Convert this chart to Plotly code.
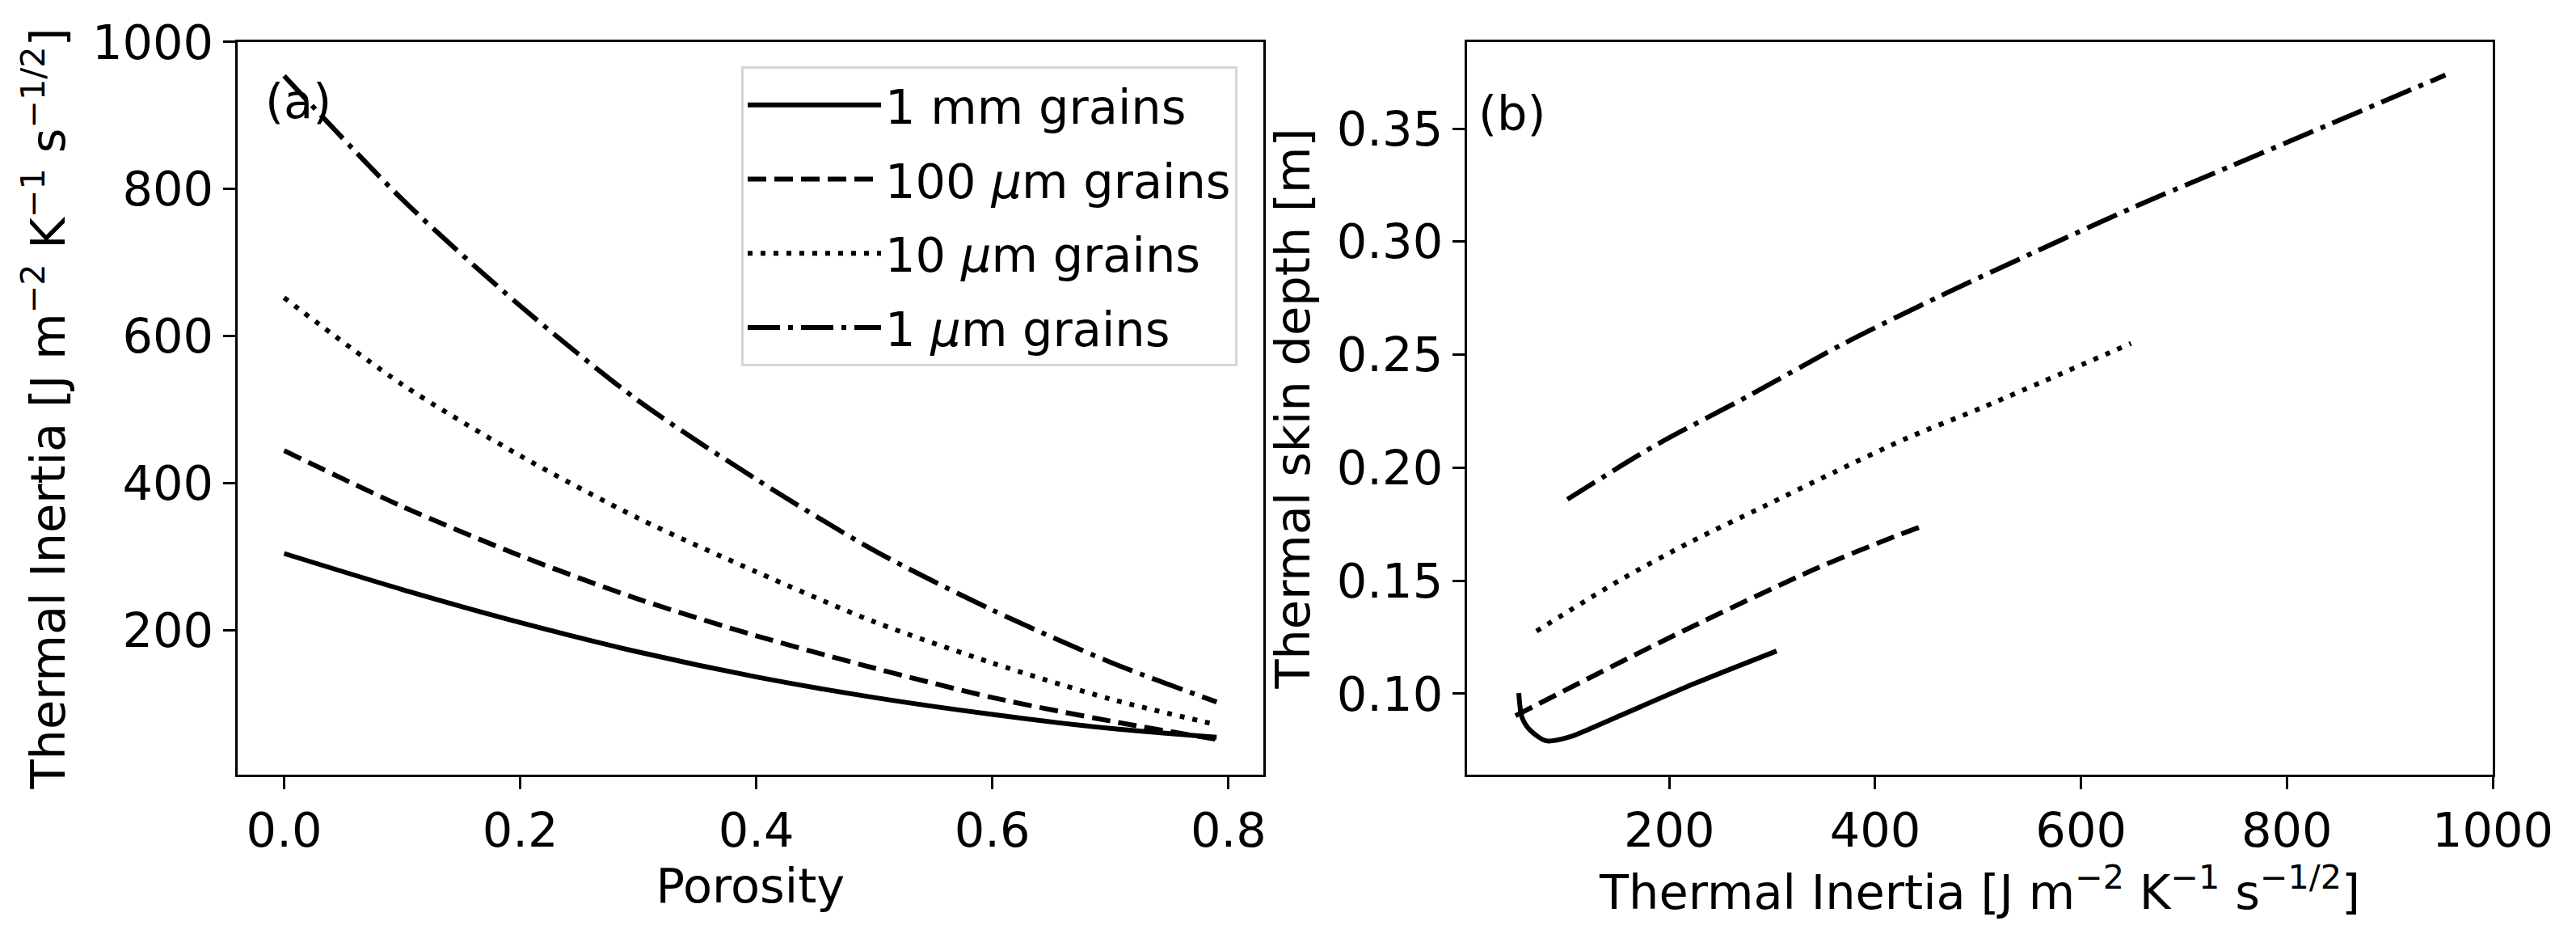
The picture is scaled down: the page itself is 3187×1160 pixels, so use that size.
import plotly.graph_objects as go

# ---- panel (a): thermal inertia vs porosity ----
porosity = [0.0, 0.1, 0.2, 0.3, 0.4, 0.5, 0.6, 0.7, 0.79]
ti_1mm = [304, 255, 210, 170, 136, 108, 85, 66, 54]
ti_100um = [444, 368, 301, 242, 192, 148, 108, 76, 51]
ti_10um = [652, 534, 437, 352, 279, 211, 155, 106, 71]
ti_1um = [954, 786, 641, 512, 405, 308, 227, 156, 102]

# ---- panel (b): skin depth vs thermal inertia ----
b_ti_1mm = [53.8, 56.9, 64.7, 80.4, 101.6, 146.4, 225, 304.2]
b_depth_1mm = [0.1003, 0.0896, 0.0839, 0.0792, 0.0807, 0.0892, 0.1046, 0.1189]
b_ti_100um = [50.6, 119.7, 214, 342.7, 419.6, 443.4]
b_depth_100um = [0.0903, 0.1064, 0.1279, 0.1554, 0.1697, 0.1737]
b_ti_10um = [71, 150.7, 220.8, 291, 361, 431, 505, 648.5]
b_depth_10um = [0.1277, 0.1499, 0.1672, 0.1827, 0.1982, 0.2131, 0.2268, 0.2550]
b_ti_1um = [101, 185, 278, 369, 462, 556, 652, 747, 842, 954]
b_depth_1um = [0.186, 0.2095, 0.232, 0.2548, 0.2757, 0.2956, 0.3154, 0.3337, 0.352, 0.3737]

labels = ["1 mm grains", "100 <i>μ</i>m grains", "10 <i>μ</i>m grains", "1 <i>μ</i>m grains"]
dashes = ["solid", "23px,10px", "6px,10px", "40px,10px,6px,10px"]

FONT = "DejaVu Sans"
FS = 59
LW = 6

fig = go.Figure()

series_a = [ti_1mm, ti_100um, ti_10um, ti_1um]
for i, (lab, ys, dsh) in enumerate(zip(labels, series_a, dashes)):
    fig.add_trace(go.Scatter(
        x=porosity, y=ys, mode="lines", name=lab, legendgroup=f"g{i}",
        line=dict(color="black", width=LW, dash=dsh, shape="spline", smoothing=0.8),
        xaxis="x", yaxis="y",
    ))

series_b = [(b_ti_1mm, b_depth_1mm), (b_ti_100um, b_depth_100um),
            (b_ti_10um, b_depth_10um), (b_ti_1um, b_depth_1um)]
for (xs, ys), dsh in zip(series_b, dashes):
    fig.add_trace(go.Scatter(
        x=xs, y=ys, mode="lines", showlegend=False,
        line=dict(color="black", width=LW, dash=dsh, shape="spline", smoothing=0.8),
        xaxis="x2", yaxis="y2",
    ))

ti_title = "Thermal Inertia [J m<sup>−2</sup> K<sup>−1</sup> s<sup>−1/2</sup>]"
axis_common = dict(
    showline=True, linecolor="black", linewidth=3, mirror=True,
    ticks="outside", ticklen=15, tickwidth=3, tickcolor="black",
    showgrid=False, zeroline=False, automargin=False,
    tickfont=dict(family=FONT, size=FS, color="black"),
)
title_font = dict(family=FONT, size=FS, color="black")

fig.update_layout(
    width=3187, height=1160,
    paper_bgcolor="white", plot_bgcolor="white",
    margin=dict(l=0, r=0, t=0, b=0),
    font=dict(family=FONT, size=FS, color="black"),
    xaxis=dict(domain=[0.0922, 0.4904], range=[-0.0395, 0.8295],
               tickvals=[0.0, 0.2, 0.4, 0.6, 0.8], tickformat=".1f",
               title=dict(text="Porosity", font=title_font),
               **axis_common),
    yaxis=dict(domain=[0.1741, 0.9552], range=[3, 1000],
               tickvals=[200, 400, 600, 800, 1000],
               title=dict(text=ti_title, font=title_font),
               **axis_common),
    xaxis2=dict(domain=[0.5695, 0.9677], range=[3.5, 1000], anchor="y2",
                tickvals=[200, 400, 600, 800, 1000],
                title=dict(text=ti_title, font=title_font),
                **axis_common),
    yaxis2=dict(domain=[0.1741, 0.9552], range=[0.0642, 0.3883], anchor="x2",
                tickvals=[0.10, 0.15, 0.20, 0.25, 0.30, 0.35], tickformat=".2f",
                title=dict(text="Thermal skin depth [m]", font=title_font),
                **axis_common),
    legend=dict(x=0.4804, y=0.9293, xanchor="right", yanchor="top",
                bgcolor="rgba(255,255,255,0.8)", bordercolor="#d5d5d5", borderwidth=3,
                itemwidth=165, tracegroupgap=12,
                font=dict(family=FONT, size=FS, color="black")),
    annotations=[
        dict(text="(a)", x=0.1023, y=0.892, xref="paper", yref="paper",
             xanchor="left", yanchor="middle", showarrow=False,
             font=dict(family=FONT, size=FS, color="black")),
        dict(text="(b)", x=0.5733, y=0.879, xref="paper", yref="paper",
             xanchor="left", yanchor="middle", showarrow=False,
             font=dict(family=FONT, size=FS, color="black")),
    ],
)

# page body has a default 8px margin; drop it so the figure sits at the window origin
fig.write_html("out.html", config={"displayModeBar": False},
               post_script="document.body.style.margin = '0';")
